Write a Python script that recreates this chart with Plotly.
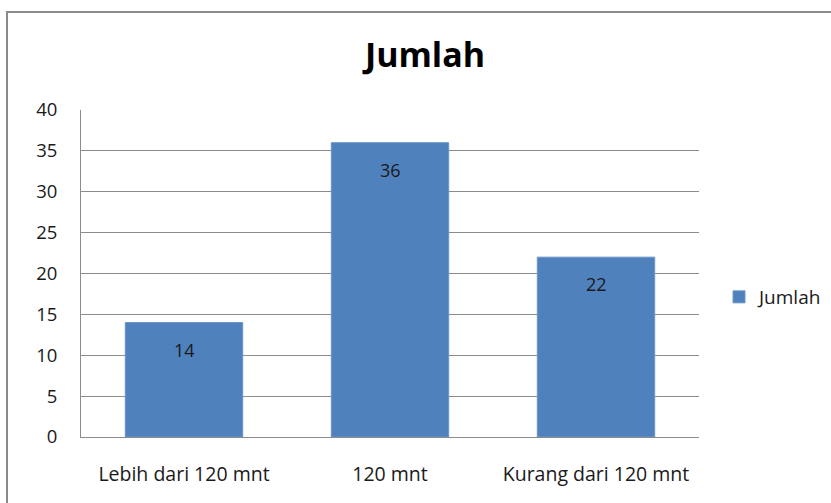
import plotly.graph_objects as go

# Chart data
categories = ["Lebih dari 120 mnt", "120 mnt", "Kurang dari 120 mnt"]
jumlah = [14, 36, 22]
y_ticks = [0, 5, 10, 15, 20, 25, 30, 35, 40]

W, H = 831, 503
L, R, T, B = 81, 132, 110, 66
pw, ph = W - L - R, H - T - B

FONT = "Open Sans"
BAR = "#4F81BD"
GRID = "#8C8C8C"
TXT = "#1a1a1a"

fig = go.Figure()
fig.add_trace(go.Bar(
    x=categories,
    y=jumlah,
    name="Jumlah",
    marker=dict(color=BAR, line=dict(color="#6C95C8", width=1)),
    width=0.57,
))

# value labels just below the top of each bar
for c, v in zip(categories, jumlah):
    fig.add_annotation(x=c, y=v, text=str(v), showarrow=False, yshift=-27,
                       font=dict(family=FONT, size=18, color=TXT))

# outer chart border
fig.add_shape(type="rect", xref="paper", yref="paper",
              x0=(7 - L) / pw, x1=(W + 10 - L) / pw,
              y0=-(H + 10 - T - ph) / ph, y1=(ph + T - 12) / ph,
              line=dict(color="#8A8A8A", width=2), fillcolor="rgba(0,0,0,0)",
              layer="below")

fig.update_layout(
    width=W, height=H,
    margin=dict(l=L, r=R, t=T, b=B, pad=0, autoexpand=False),
    paper_bgcolor="white", plot_bgcolor="white",
    title=dict(text="<b>Jumlah</b>", x=425 / W, xanchor="center",
               y=1 - 55 / H, yanchor="middle",
               font=dict(family=FONT, size=34, color="black")),
    showlegend=True,
    legend=dict(xref="container", yref="container",
                x=719 / W, xanchor="left", y=1 - 297 / H, yanchor="middle",
                font=dict(family=FONT, size=19, color=TXT),
                itemwidth=30, bgcolor="rgba(0,0,0,0)"),
    xaxis=dict(showline=True, linecolor=GRID, linewidth=1, ticks="",
               tickfont=dict(family=FONT, size=19.5, color=TXT),
               ticklabelstandoff=20),
    yaxis=dict(range=[0, 40], tickvals=y_ticks, showgrid=True, gridcolor=GRID,
               gridwidth=1, showline=True, linecolor=GRID, linewidth=1,
               ticks="", zeroline=False,
               tickfont=dict(family=FONT, size=18.5, color=TXT),
               ticklabelstandoff=19),
    bargap=0.43,
)

fig.write_html("out.html")
